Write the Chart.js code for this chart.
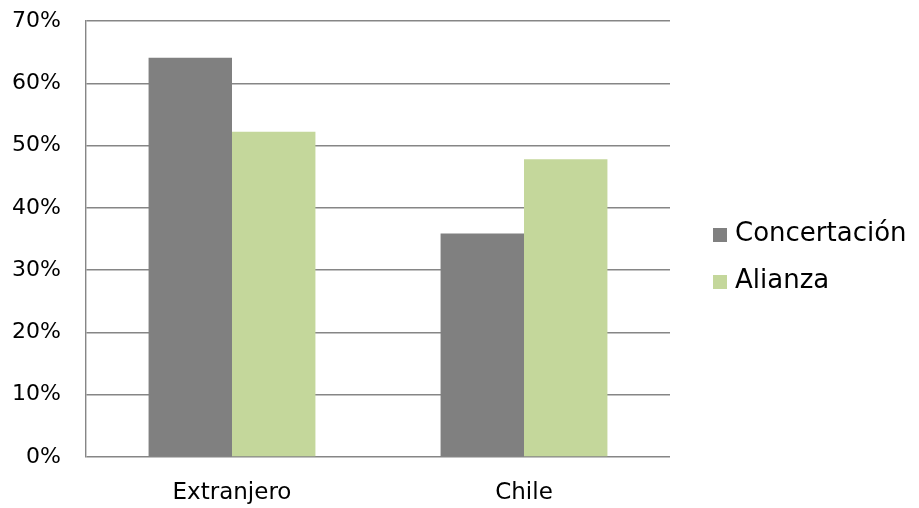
<!DOCTYPE html>
<html>
<head>
<meta charset="utf-8">
<script src="https://cdn.jsdelivr.net/npm/chart.js@4.4.1/dist/chart.umd.min.js"></script>
<style>
  html, body { margin: 0; padding: 0; background: #fff; }
  #wrap { width: 919px; height: 508px; }
</style>
</head>
<body>
<div id="wrap"><canvas id="myChart" width="919" height="508"></canvas></div>
<script>
// categories and series (percent)
var categories = ["Extranjero", "Chile"];
var concertacion = [64.1, 35.9];
var alianza = [52.2, 47.8];
var seriesNames = ["Concertación", "Alianza"];
var seriesColors = ["#808080", "#C4D79B"];
var yTicks = [0, 10, 20, 30, 40, 50, 60, 70];

var gridColor = "#868686";
var fontFamily = "'DejaVu Sans', sans-serif";

// legend drawn at the right, from the datasets
var sideLegend = {
  id: "sideLegend",
  afterDraw: function(chart) {
    var ctx = chart.ctx;
    ctx.save();
    ctx.font = "26px " + fontFamily;
    ctx.textBaseline = "middle";
    ctx.textAlign = "left";
    chart.data.datasets.forEach(function(ds, i) {
      var y = 235 + i * 47;
      ctx.fillStyle = ds.backgroundColor;
      ctx.fillRect(713, y - 7, 14, 14);
      ctx.fillStyle = "#000";
      ctx.fillText(ds.label, 735, y - 1);
    });
    ctx.restore();
  }
};

var ctx = document.getElementById("myChart").getContext("2d");
var myNewChart = new Chart(ctx, {
  type: "bar",
  data: {
    labels: categories,
    datasets: [
      { label: seriesNames[0], data: concertacion, backgroundColor: seriesColors[0] },
      { label: seriesNames[1], data: alianza, backgroundColor: seriesColors[1] }
    ]
  },
  options: {
    responsive: false,
    animation: false,
    devicePixelRatio: 1,
    layout: { padding: { left: 0, right: 249, top: 21, bottom: 0 } },
    datasets: { bar: { categoryPercentage: 2 / 3.5, barPercentage: 1 } },
    plugins: { legend: { display: false }, tooltip: { enabled: false } },
    scales: {
      x: {
        afterFit: function(axis) { axis.height = 51; axis.paddingLeft = 0; axis.paddingRight = 0; },
        grid: { display: false, drawTicks: false },
        border: { display: false },
        ticks: { color: "#000", padding: 22, font: { family: fontFamily, size: 23 } }
      },
      y: {
        min: 0,
        max: 70,
        afterFit: function(axis) { axis.width = 86; axis.paddingTop = 0; axis.paddingBottom = 0; },
        afterBuildTicks: function(axis) {
          axis.ticks = yTicks.map(function(v) { return { value: v }; });
        },
        grid: { color: gridColor, lineWidth: 1.4, drawTicks: false },
        border: { display: true, color: gridColor, width: 1.4 },
        ticks: {
          color: "#000",
          padding: 25,
          font: { family: fontFamily, size: 22 },
          callback: function(v) { return v + "%"; }
        }
      }
    }
  },
  plugins: [sideLegend]
});
</script>
</body>
</html>
